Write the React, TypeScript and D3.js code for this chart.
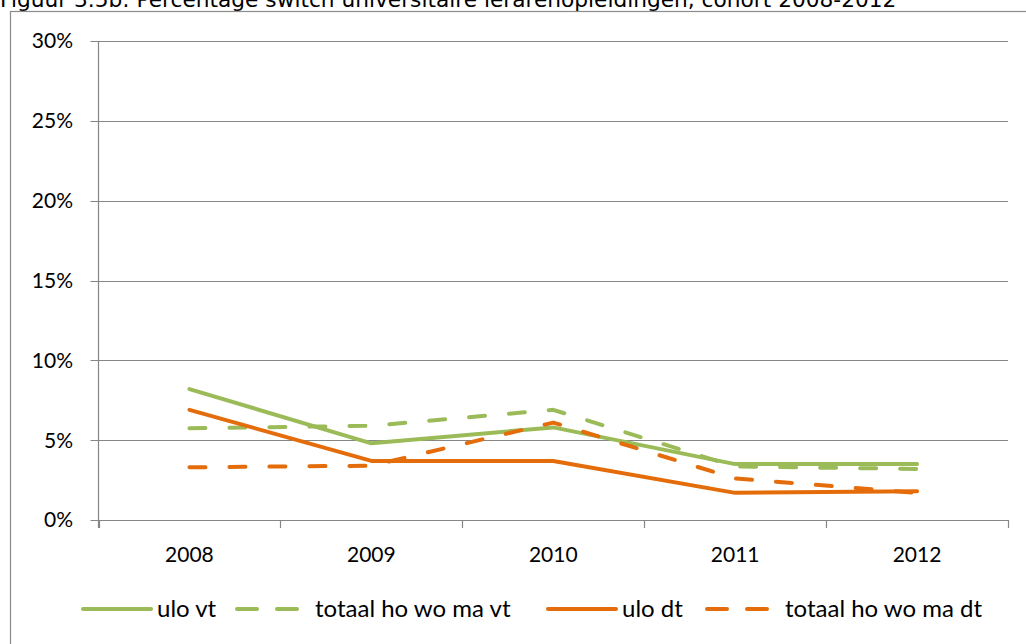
import React from "react";
import * as d3 from "d3";

const years = ["2008", "2009", "2010", "2011", "2012"];
const uloVt = [8.2, 4.8, 5.8, 3.5, 3.5];
const totaalVt = [5.75, 5.9, 6.9, 3.35, 3.2];
const uloDt = [6.9, 3.7, 3.7, 1.7, 1.8];
const totaalDt = [3.3, 3.4, 6.1, 2.6, 1.7];
const yTicks = [0, 5, 10, 15, 20, 25, 30];

const GREEN = "#9bbb59";
const ORANGE = "#e46c0a";
const GRID = "#868686";

const series = [
  { name: "ulo vt", values: uloVt, color: GREEN, dashed: false },
  { name: "totaal ho wo ma vt", values: totaalVt, color: GREEN, dashed: true },
  { name: "ulo dt", values: uloDt, color: ORANGE, dashed: false },
  { name: "totaal ho wo ma dt", values: totaalDt, color: ORANGE, dashed: true },
];

// legend x positions of each item's symbol start
const legendX = [81, 235, 546, 705];

const App = () => {
  const left = 98.5;
  const right = 1008;
  const top = 41;
  const bottom = 520;

  const x = d3.scaleBand<string>().domain(years).range([left, right]).padding(0);
  const y = d3.scaleLinear().domain([0, 30]).range([bottom, top]);

  const line = d3
    .line<number>()
    .x((d, i) => (x(years[i]) as number) + x.bandwidth() / 2)
    .y(d => y(d));

  const font = "Lato, 'Open Sans', sans-serif";

  return (
    <svg
      width={1026}
      height={644}
      style={{ position: "absolute", left: 0, top: 0, background: "#fff" }}
    >
      <rect x={0} y={0} width={1026} height={644} fill="#fff" />
      <text
        x={0}
        y={7}
        fontFamily="'DejaVu Sans', Verdana, sans-serif"
        fontSize={21.7}
        fill="#000"
      >
        Figuur 3.5b: Percentage switch universitaire lerarenopleidingen, cohort 2008-2012
      </text>
      <rect x={10.5} y={11.5} width={1030} height={650} fill="none" stroke="#8c8c8c" strokeWidth={1.2} />

      {/* gridlines and y ticks */}
      {yTicks.map(t => (
        <g key={t}>
          <line x1={left - 8} x2={right} y1={Math.round(y(t)) + 0.5} y2={Math.round(y(t)) + 0.5} stroke={GRID} strokeWidth={1.2} />
          <text
            x={73}
            y={y(t)}
            dy="0.35em"
            textAnchor="end"
            fontFamily={font}
            fontSize={21}
            fill="#000"
          >
            {t}%
          </text>
        </g>
      ))}
      <line x1={left} x2={left} y1={top} y2={bottom + 8} stroke={GRID} strokeWidth={1.2} />

      {/* x ticks */}
      {years.concat(["end"]).map((yr, i) => {
        const tx = Math.round(left + i * x.bandwidth()) + 0.5;
        return <line key={yr} x1={tx} x2={tx} y1={bottom} y2={bottom + 8} stroke={GRID} strokeWidth={1.2} />;
      })}
      {years.map(yr => (
        <text
          key={yr}
          x={(x(yr) as number) + x.bandwidth() / 2}
          y={562}
          textAnchor="middle"
          fontFamily={font}
          fontSize={21}
          fill="#000"
        >
          {yr}
        </text>
      ))}

      {/* series */}
      {series.map(s => (
        <path
          key={s.name}
          d={line(s.values) as string}
          fill="none"
          stroke={s.color}
          strokeWidth={4}
          strokeLinecap="round"
          strokeLinejoin="round"
          strokeDasharray={s.dashed ? "16 24" : undefined}
        />
      ))}

      {/* legend */}
      {series.map((s, i) => (
        <g key={s.name} transform={`translate(${legendX[i]},609)`}>
          {s.dashed ? (
            <>
              <line x1={2} x2={22} y1={0} y2={0} stroke={s.color} strokeWidth={4} strokeLinecap="round" />
              <line x1={42} x2={62} y1={0} y2={0} stroke={s.color} strokeWidth={4} strokeLinecap="round" />
            </>
          ) : (
            <line x1={2} x2={70} y1={0} y2={0} stroke={s.color} strokeWidth={4} strokeLinecap="round" />
          )}
          <text
            x={s.dashed ? 80 : 76}
            y={0}
            dy="0.35em"
            fontFamily={font}
            fontSize={24}
            fill="#000"
          >
            {s.name}
          </text>
        </g>
      ))}
    </svg>
  );
};

export default App;
